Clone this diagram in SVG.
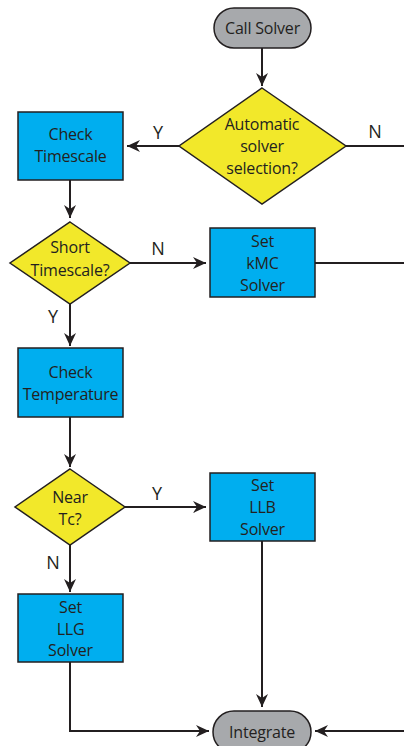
<svg xmlns="http://www.w3.org/2000/svg" width="404" height="746" viewBox="0 0 404 746">
  <style>
    .proc { fill: #00aeef; stroke: #231f20; stroke-width: 1.5; }
    .dec { fill: #f2e82a; stroke: #231f20; stroke-width: 1.5; }
    .term { fill: #a7a9ac; stroke: #231f20; stroke-width: 1.5; }
    .lbl { font-family: "Open Sans", "Liberation Sans", sans-serif; font-size: 16px; fill: #231f20; text-anchor: middle; dominant-baseline: central; letter-spacing: -0.2px; }
    .yn { font-family: "Open Sans", "Liberation Sans", sans-serif; font-size: 18px; fill: #231f20; text-anchor: middle; dominant-baseline: central; }
    .edge { fill: none; stroke: #231f20; stroke-width: 2; }
  </style>
  <defs>
    <marker id="arr" markerUnits="userSpaceOnUse" markerWidth="14" markerHeight="14" viewBox="0 0 14 14" refX="13" refY="7" orient="auto">
      <path d="M0,1 L13,7 L0,13 L4,7 Z" fill="#231f20"/>
    </marker>
  </defs>

  <g id="connectors">
    <path class="edge" d="M262,48 V86" marker-end="url(#arr)"/>
    <path class="edge" d="M179,146 H127" marker-end="url(#arr)"/>
    <path class="edge" d="M346,146 H404"/>
    <path class="edge" d="M70,180 V218" marker-end="url(#arr)"/>
    <path class="edge" d="M130,263 H206" marker-end="url(#arr)"/>
    <path class="edge" d="M315,263 H404"/>
    <path class="edge" d="M70,304 V346" marker-end="url(#arr)"/>
    <path class="edge" d="M70,417 V467" marker-end="url(#arr)"/>
    <path class="edge" d="M125,507 H206" marker-end="url(#arr)"/>
    <path class="edge" d="M70,545 V592" marker-end="url(#arr)"/>
    <path class="edge" d="M262,541 V707" marker-end="url(#arr)"/>
    <path class="edge" d="M70,662 V731 H209" marker-end="url(#arr)"/>
    <path class="edge" d="M404,731 H315" marker-end="url(#arr)"/>
    <text class="yn" x="375" y="131">N</text>
    <text class="yn" x="158" y="132">Y</text>
    <text class="yn" x="158" y="248">N</text>
    <text class="yn" x="53" y="316">Y</text>
    <text class="yn" x="157" y="493">Y</text>
    <text class="yn" x="53" y="562">N</text>
  </g>

  <g id="call-solver">
    <rect class="term" x="214" y="8" width="97" height="40" rx="20"/>
    <text class="lbl" x="262.5" y="28">Call Solver</text>
  </g>

  <g id="auto-select">
    <polygon class="dec" points="262,88 346,146 262,204 179,146"/>
    <text class="lbl" x="262" y="124">Automatic</text>
    <text class="lbl" x="262" y="146">solver</text>
    <text class="lbl" x="262" y="168">selection?</text>
  </g>

  <g id="check-timescale">
    <rect class="proc" x="18" y="112" width="105" height="68"/>
    <text class="lbl" x="70.5" y="134">Check</text>
    <text class="lbl" x="70.5" y="156">Timescale</text>
  </g>

  <g id="short-timescale">
    <polygon class="dec" points="70,222 130,263 70,304 10,263"/>
    <text class="lbl" x="70" y="247">Short</text>
    <text class="lbl" x="70" y="270">Timescale?</text>
  </g>

  <g id="set-kmc">
    <rect class="proc" x="210" y="228" width="105" height="69"/>
    <text class="lbl" x="262.5" y="241">Set</text>
    <text class="lbl" x="262.5" y="263">kMC</text>
    <text class="lbl" x="262.5" y="285">Solver</text>
  </g>

  <g id="check-temperature">
    <rect class="proc" x="18" y="348" width="105" height="69"/>
    <text class="lbl" x="70.5" y="372">Check</text>
    <text class="lbl" x="70.5" y="394">Temperature</text>
  </g>

  <g id="near-tc">
    <polygon class="dec" points="70,469 125,507 70,545 15,507"/>
    <text class="lbl" x="70" y="497">Near</text>
    <text class="lbl" x="70" y="519">Tc?</text>
  </g>

  <g id="set-llb">
    <rect class="proc" x="210" y="473" width="105" height="68"/>
    <text class="lbl" x="262.5" y="485">Set</text>
    <text class="lbl" x="262.5" y="507">LLB</text>
    <text class="lbl" x="262.5" y="529">Solver</text>
  </g>

  <g id="set-llg">
    <rect class="proc" x="18" y="594" width="105" height="68"/>
    <text class="lbl" x="70.5" y="607">Set</text>
    <text class="lbl" x="70.5" y="629">LLG</text>
    <text class="lbl" x="70.5" y="650">Solver</text>
  </g>

  <g id="integrate">
    <rect class="term" x="213" y="711" width="98" height="42" rx="21"/>
    <text class="lbl" x="262" y="732">Integrate</text>
  </g>
</svg>
